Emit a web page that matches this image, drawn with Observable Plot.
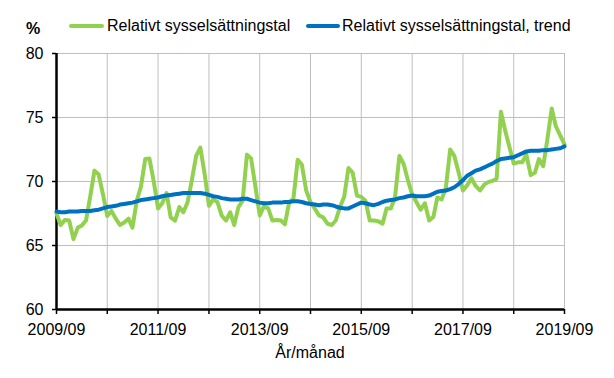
<!DOCTYPE html>
<html>
<head>
<meta charset="utf-8">
<script src="https://cdn.jsdelivr.net/npm/d3@7"></script>
<script src="https://cdn.jsdelivr.net/npm/@observablehq/plot@0.6"></script>
<style>
  html, body { margin: 0; padding: 0; background: #fff; }
  #wrap { position: relative; width: 614px; height: 378px; font-family: "Liberation Sans", Arial, sans-serif; color: #000; }
  .abs { position: absolute; font-size: 16px; line-height: 16px; white-space: nowrap; }
  .swatch { position: absolute; height: 4px; border-radius: 2px; }
</style>
</head>
<body>
<div id="wrap"></div>
<script>
// ---- data ----
const firstMonth = "2009/09";
const seriesNames = ["Relativt sysselsättningstal", "Relativt sysselsättningstal, trend"];
const seriesColors = ["#92D050", "#0070C0"];
const employmentRate = [
  67.5, 66.6, 67.0, 66.95, 65.5, 66.4, 66.55, 66.95, 68.8, 70.85, 70.55, 69.0,
  67.3, 67.7, 67.1, 66.6, 66.8, 67.1, 66.4, 68.5, 69.6, 71.75, 71.8, 70.0,
  67.9, 68.3, 69.1, 67.2, 66.95, 68.0, 67.6, 68.4, 70.1, 72.0, 72.65, 70.6,
  68.1, 68.6, 68.4, 67.35, 66.95, 67.6, 66.6, 68.0, 68.5, 72.1, 71.8, 69.6,
  67.35, 68.05, 67.9, 66.95, 67.0, 66.95, 66.65, 68.4, 68.65, 71.7, 71.3, 69.3,
  68.4, 67.9, 67.35, 67.2, 66.7, 66.6, 66.95, 68.0, 68.8, 71.05, 70.7, 68.9,
  68.8, 68.5, 66.95, 66.95, 66.9, 66.7, 67.9, 67.9, 68.8, 72.0, 71.4, 70.1,
  69.0, 68.4, 67.8, 68.3, 66.95, 67.25, 68.75, 68.6, 69.5, 72.5, 72.0, 70.7,
  69.3, 69.7, 70.25, 69.65, 69.3, 69.75, 69.95, 70.05, 70.2, 75.45, 74.0, 72.7,
  71.4, 71.5, 71.5, 72.1, 70.5, 70.7, 71.75, 71.2, 73.3, 75.7, 74.3, 73.6,
  72.9
];
const employmentTrend = [
  67.65, 67.6, 67.6, 67.65, 67.65, 67.65, 67.7, 67.7, 67.7, 67.75, 67.8, 67.9,
  68.0, 68.05, 68.1, 68.2, 68.25, 68.3, 68.35, 68.45, 68.55, 68.6, 68.65, 68.7,
  68.75, 68.85, 68.9, 68.95, 69.0, 69.05, 69.1, 69.1, 69.1, 69.1, 69.1, 69.05,
  68.95, 68.85, 68.8, 68.7, 68.65, 68.6, 68.6, 68.6, 68.65, 68.65, 68.55, 68.45,
  68.35, 68.3, 68.3, 68.35, 68.35, 68.35, 68.4, 68.4, 68.45, 68.45, 68.4, 68.3,
  68.25, 68.2, 68.15, 68.2, 68.2, 68.15, 68.05, 67.95, 67.9, 67.9, 68.05, 68.2,
  68.35, 68.3, 68.2, 68.15, 68.25, 68.4, 68.5, 68.55, 68.6, 68.7, 68.75, 68.85,
  68.9, 68.85, 68.85, 68.85, 68.9, 69.05, 69.2, 69.25, 69.3, 69.4, 69.55, 69.8,
  70.1, 70.45, 70.65, 70.85, 70.95, 71.1, 71.25, 71.4, 71.6, 71.75, 71.8, 71.85,
  71.9, 72.05, 72.2, 72.35, 72.4, 72.4, 72.4, 72.45, 72.45, 72.5, 72.55, 72.6,
  72.75
];
const xTickLabels = ["2009/09", "2011/09", "2013/09", "2015/09", "2017/09", "2019/09"];
const xGridMonths = ["2009/09", "2010/09", "2011/09", "2012/09", "2013/09", "2014/09", "2015/09", "2016/09", "2017/09", "2018/09", "2019/09"];
const yTicks = [60, 65, 70, 75, 80];
const yLabel = "%";
const xLabel = "År/månad";

// ---- build ----
const parseYM = s => { const [y, m] = s.split("/").map(Number); return new Date(Date.UTC(y, m - 1, 1)); };
const start = parseYM(firstMonth);
const dates = employmentRate.map((_, i) => d3.utcMonth.offset(start, i));
const rows = dates.map((d, i) => ({date: d, rate: employmentRate[i], trend: employmentTrend[i]}));
const gridDates = xGridMonths.map(parseYM);
const labelDates = xTickLabels.map(parseYM);
const fmt = d3.utcFormat("%Y/%m");

const chart = Plot.plot({
  width: 614,
  height: 378,
  marginLeft: 56,
  marginRight: 50,
  marginTop: 53,
  marginBottom: 69,
  style: {fontFamily: "'Liberation Sans', Arial, sans-serif", fontSize: "16px", background: "#fff", color: "#000"},
  x: {type: "utc", domain: [gridDates[0], gridDates[gridDates.length - 1]]},
  y: {domain: [60, 80]},
  marks: [
    Plot.gridY(yTicks.filter(t => t > 60), {stroke: "#bfbfbf", strokeOpacity: 1, strokeWidth: 1}),
    Plot.gridX(gridDates.slice(1), {stroke: "#bfbfbf", strokeOpacity: 1, strokeWidth: 1}),
    Plot.axisY(yTicks, {tickSize: 4, tickPadding: 9, label: null, stroke: "#000", strokeWidth: 1.5, fontSize: 16}),
    Plot.axisX(gridDates, {tickSize: 5, text: null, label: null, stroke: "#000", strokeWidth: 1.5}),
    Plot.axisX(labelDates, {tickSize: 0, tickPadding: 14, label: null, tickFormat: fmt, fontSize: 16}),
    Plot.ruleX([gridDates[0]], {stroke: "#000", strokeWidth: 2.5}),
    Plot.ruleY([60], {stroke: "#000", strokeWidth: 2.5}),
    Plot.line(rows, {x: "date", y: "rate", stroke: seriesColors[0], strokeWidth: 4, strokeLinejoin: "round", strokeLinecap: "round"}),
    Plot.line(rows, {x: "date", y: "trend", stroke: seriesColors[1], strokeWidth: 4, strokeLinejoin: "round", strokeLinecap: "round"})
  ]
});

const wrap = document.getElementById("wrap");
wrap.appendChild(chart);

function addText(txt, left, top, extra) {
  const el = document.createElement("div");
  el.className = "abs";
  el.textContent = txt;
  el.style.left = left + "px";
  el.style.top = top + "px";
  if (extra) Object.assign(el.style, extra);
  wrap.appendChild(el);
  return el;
}
function addSwatch(color, left, width, top) {
  const el = document.createElement("div");
  el.className = "swatch";
  el.style.background = color;
  el.style.left = left + "px";
  el.style.width = width + "px";
  el.style.top = top + "px";
  wrap.appendChild(el);
}
addText(yLabel, 26, 20.5, {fontWeight: "bold"});
addSwatch(seriesColors[0], 69, 35, 24);
addText(seriesNames[0], 107, 18);
addSwatch(seriesColors[1], 306, 34, 24);
addText(seriesNames[1], 342, 18);
addText(xLabel, 310, 345, {transform: "translateX(-50%)"});
</script>
</body>
</html>
